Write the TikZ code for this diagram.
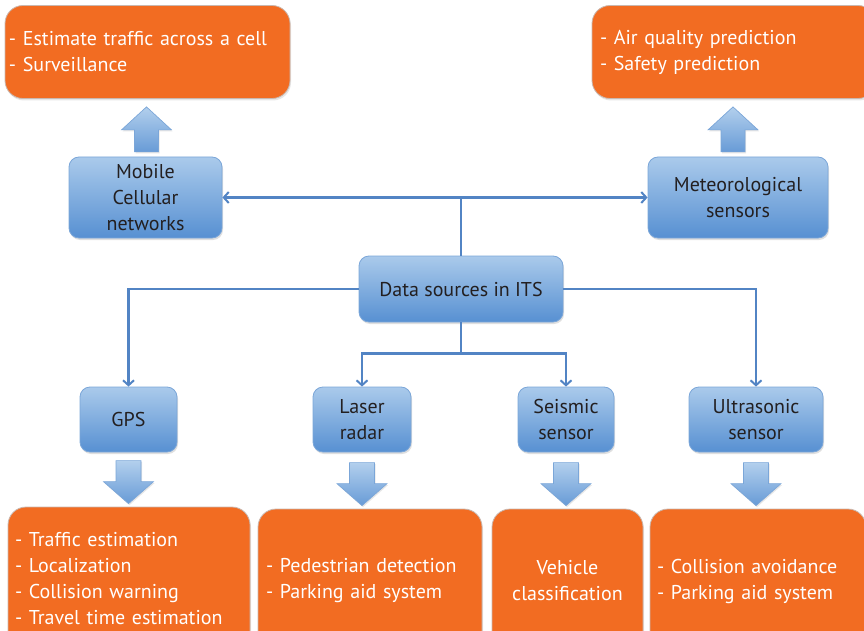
\documentclass[tikz,border=0pt]{standalone}
\usepackage{fontspec}
\setmainfont{PT Sans}
\usetikzlibrary{arrows.meta,shadows,calc}
\definecolor{org}{HTML}{F26C22}
\definecolor{orgedge}{HTML}{C9B8B0}
\definecolor{bluetop}{HTML}{AACAEB}
\definecolor{bluebot}{HTML}{5790D2}
\definecolor{blueedge}{HTML}{7BA6D8}
\definecolor{blueline}{HTML}{5284C4}
\definecolor{txt}{HTML}{231F20}
\begin{document}
\begin{tikzpicture}[x=1pt,y=-1pt,
  src/.style={draw=blueedge, line width=0.8pt, rounded corners=10pt,
    top color=bluetop, bottom color=bluebot, align=center, text=txt,
    font=\fontsize{20}{26}\selectfont, inner sep=0pt,
    drop shadow={opacity=0.25,shadow xshift=1pt,shadow yshift=-2pt}},
  res/.style={draw=orgedge, line width=0.8pt, rounded corners=18pt,
    fill=org, text=white, font=\fontsize{20}{26}\selectfont,
    inner ysep=0pt,
    drop shadow={opacity=0.2,shadow xshift=1pt,shadow yshift=-2pt}},
  conn/.style={draw=blueline, line width=2.2pt},
  tipx/.style={-{Straight Barb[length=5pt,width=11pt,line width=2pt]}},
  barrow/.style={draw=blueedge, line width=0.7pt, top color=bluetop!90!white, bottom color=bluebot!90!white,
    drop shadow={opacity=0.2,shadow xshift=1pt,shadow yshift=-1.5pt}},
  uparrow/.pic={\path[barrow] (0,0) -- (25,23) -- (12,23) -- (12,45) -- (-12,45) -- (-12,23) -- (-25,23) -- cycle;},
  downarrow/.pic={\path[barrow] (0,0) -- (25,-22) -- (12.5,-22) -- (12.5,-43) -- (-12.5,-43) -- (-12.5,-22) -- (-25,-22) -- cycle;}
]
\useasboundingbox (0,0) rectangle (864,631);
\begin{scope}
\clip (0,0) rectangle (864,631);

% top result boxes
\node[res, minimum width=285pt, minimum height=93pt, text width=277pt, inner xsep=4pt, align=left]
  (tl) at (147.5,52) {- Estimate traffic across a cell\\- Surveillance};
\node[res, minimum width=284pt, minimum height=93pt, text width=268pt, inner xsep=8pt, align=left]
  (tr) at (734,52) {- Air quality prediction\\- Safety prediction};

% source boxes
\node[src, minimum width=153pt, minimum height=81pt] (mobile) at (145.5,197.5) {Mobile\\Cellular\\networks};
\node[src, minimum width=180pt, minimum height=81pt] (meteo) at (738,197.5) {Meteorological\\sensors};
\node[src, minimum width=204pt, minimum height=66pt] (data) at (461,289) {Data sources in ITS};
\node[src, minimum width=97pt, minimum height=65pt] (gps) at (128.5,419.5) {GPS};
\node[src, minimum width=98pt, minimum height=65pt] (laser) at (362,419.5) {Laser\\radar};
\node[src, minimum width=96pt, minimum height=65pt] (seismic) at (566,419.5) {Seismic\\sensor};
\node[src, minimum width=134pt, minimum height=65pt] (ultra) at (756,419.5) {Ultrasonic\\sensor};

% bottom result boxes
\node[res, minimum width=242pt, minimum height=144pt, text width=228pt, inner xsep=7pt, align=left]
  (gpsres) at (129,579) {- Traffic estimation\\- Localization\\- Collision warning\\- Travel time estimation};
\node[res, minimum width=224pt, minimum height=144pt, text width=208pt, inner xsep=8pt, align=left]
  (laserres) at (370,581) {- Pedestrian detection\\- Parking aid system};
\node[res, minimum width=151pt, minimum height=144pt, text width=141pt, inner xsep=5pt, align=center]
  (seisres) at (567.5,581) {Vehicle\\classification};
\node[res, minimum width=216pt, minimum height=144pt, text width=202pt, inner xsep=7pt, align=left]
  (ultrares) at (758,581) {- Collision avoidance\\- Parking aid system};

% block arrows
\pic at ($(mobile.north |- tl.south)+(1,8)$) {uparrow};
\pic at ($(meteo.north |- tr.south)+(-5,8)$) {uparrow};
\pic at ($(gps.south |- gpsres.north)+(0,-3)$) {downarrow};
\pic at ($(laser.south |- laserres.north)+(0,-3)$) {downarrow};
\pic at ($(seismic.south |- seisres.north)+(0,-3)$) {downarrow};
\pic at ($(ultra.south |- ultrares.north)+(0,-3)$) {downarrow};

% connectors
\draw[conn, {Straight Barb[length=5pt,width=11pt,line width=2pt]}-{Straight Barb[length=5pt,width=11pt,line width=2pt]}]
  (mobile.east) -- (meteo.west);
\draw[conn] (data.north) -- (data.north |- mobile.east);
\draw[conn, tipx] (data.west) -| (gps.north);
\draw[conn, tipx] (data.east) -| (ultra.north);
\coordinate (split) at ($(data.south)+(0,31)$);
\draw[conn] (data.south) -- (split);
\draw[conn, tipx] (split) -| (laser.north);
\draw[conn, tipx] (split) -| (seismic.north);
\end{scope}
\end{tikzpicture}
\end{document}
